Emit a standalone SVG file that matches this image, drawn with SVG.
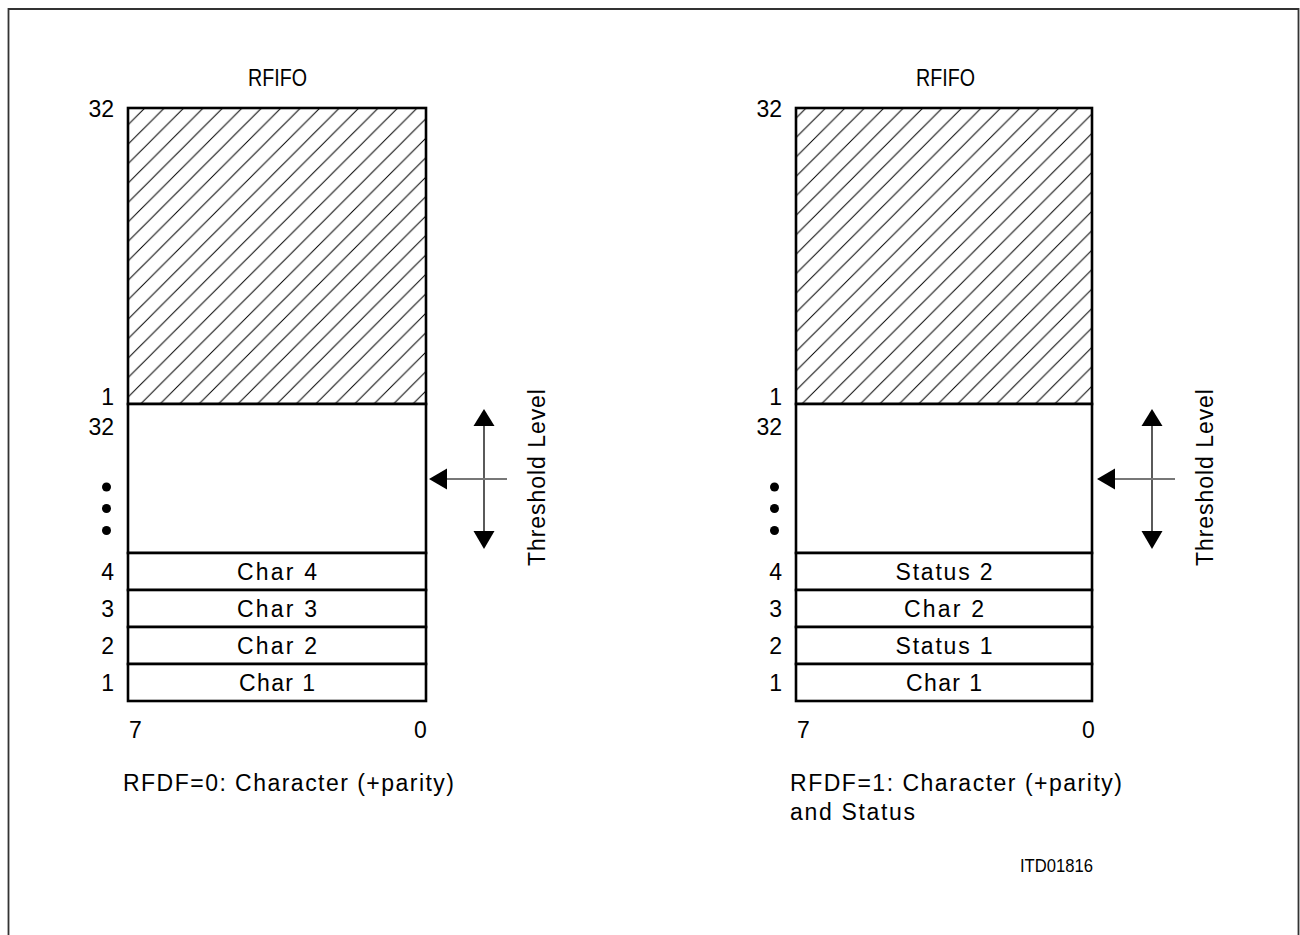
<svg xmlns="http://www.w3.org/2000/svg" width="1300" height="935" viewBox="0 0 1300 935">
<style>
text{font-family:"Liberation Sans",Arial,sans-serif;font-size:23px;fill:#000}
.c{text-anchor:middle}
.r{text-anchor:end}
.t{font-size:24px}
.box{fill:none;stroke:#000;stroke-width:2.6}
.hatch{fill:url(#hatch);stroke:none}
.cell{fill:#fff;stroke:#000;stroke-width:2.6}
.hl{stroke:#000;stroke-width:1.3}
.gl{stroke:#777;stroke-width:2}
</style>
<defs>
<pattern id="hatch" patternUnits="userSpaceOnUse" width="19.45" height="19.45">
<path d="M0,19.45 L19.45,0 M-2,2 L2,-2 M17.45,21.45 L21.45,17.45" stroke="#000" stroke-width="1" fill="none"/>
</pattern>
</defs>
<rect width="1300" height="935" fill="#fff"/>
<path d="M8.5,940 V9 H1298.5 V940" fill="none" stroke="#333" stroke-width="1.8"/>

<!-- Left diagram -->
<g id="left-fifo">
<text class="c t" transform="translate(277.5,86) scale(0.82,1)">RFIFO</text>
<g id="left-hatched">
<rect x="128" y="108" width="298" height="296" class="hatch"/>
<rect x="128" y="108" width="298" height="296" class="box"/>
</g>
<g id="left-empty"><rect x="128" y="404" width="298" height="149" class="cell"/></g>
<g id="left-row4"><rect x="128" y="553" width="298" height="37" class="cell"/><text class="c" x="277" y="580" textLength="80" lengthAdjust="spacing">Char 4</text></g>
<g id="left-row3"><rect x="128" y="590" width="298" height="37" class="cell"/><text class="c" x="277" y="617" textLength="80" lengthAdjust="spacing">Char 3</text></g>
<g id="left-row2"><rect x="128" y="627" width="298" height="37" class="cell"/><text class="c" x="277" y="654" textLength="80" lengthAdjust="spacing">Char 2</text></g>
<g id="left-row1"><rect x="128" y="664" width="298" height="37" class="cell"/><text class="c" x="277" y="691" textLength="76" lengthAdjust="spacing">Char 1</text></g>
<text class="r" x="114" y="117">32</text>
<text class="r" x="114" y="405">1</text>
<text class="r" x="114" y="435">32</text>
<circle cx="106.5" cy="487" r="4.5"/>
<circle cx="106.5" cy="508.5" r="4.5"/>
<circle cx="106.5" cy="530.5" r="4.5"/>
<text class="r" x="114" y="580">4</text>
<text class="r" x="114" y="617">3</text>
<text class="r" x="114" y="654">2</text>
<text class="r" x="114" y="691">1</text>
<text x="129" y="738">7</text>
<text x="414" y="738">0</text>
<text x="123" y="791" textLength="331" lengthAdjust="spacing">RFDF=0: Character (+parity)</text>
<text transform="translate(545,566) rotate(-90)" textLength="177" lengthAdjust="spacing">Threshold Level</text>
</g>

<!-- Right diagram -->
<g id="right-fifo">
<text class="c t" transform="translate(945.5,86) scale(0.82,1)">RFIFO</text>
<g id="right-hatched">
<rect x="796" y="108" width="296" height="296" class="hatch"/>
<rect x="796" y="108" width="296" height="296" class="box"/>
</g>
<g id="right-empty"><rect x="796" y="404" width="296" height="149" class="cell"/></g>
<g id="right-row4"><rect x="796" y="553" width="296" height="37" class="cell"/><text class="c" x="944" y="580" textLength="97" lengthAdjust="spacing">Status 2</text></g>
<g id="right-row3"><rect x="796" y="590" width="296" height="37" class="cell"/><text class="c" x="944" y="617" textLength="80" lengthAdjust="spacing">Char 2</text></g>
<g id="right-row2"><rect x="796" y="627" width="296" height="37" class="cell"/><text class="c" x="944" y="654" textLength="97" lengthAdjust="spacing">Status 1</text></g>
<g id="right-row1"><rect x="796" y="664" width="296" height="37" class="cell"/><text class="c" x="944" y="691" textLength="76" lengthAdjust="spacing">Char 1</text></g>
<text class="r" x="782" y="117">32</text>
<text class="r" x="782" y="405">1</text>
<text class="r" x="782" y="435">32</text>
<circle cx="774.5" cy="487" r="4.5"/>
<circle cx="774.5" cy="508.5" r="4.5"/>
<circle cx="774.5" cy="530.5" r="4.5"/>
<text class="r" x="782" y="580">4</text>
<text class="r" x="782" y="617">3</text>
<text class="r" x="782" y="654">2</text>
<text class="r" x="782" y="691">1</text>
<text x="797" y="738">7</text>
<text x="1082" y="738">0</text>
<text x="790" y="791" textLength="332" lengthAdjust="spacing">RFDF=1: Character (+parity)</text>
<text x="790" y="820" textLength="125" lengthAdjust="spacing">and Status</text>
<text x="1020" y="872" style="font-size:19px" textLength="73" lengthAdjust="spacingAndGlyphs">ITD01816</text>
<text transform="translate(1213,566) rotate(-90)" textLength="177" lengthAdjust="spacing">Threshold Level</text>
</g>

<g id="connectors">
<line class="hl" x1="484" y1="420" x2="484" y2="536"/>
<path d="M484,409 L473.5,426 L494.5,426 Z"/>
<path d="M484,549 L473.5,531 L494.5,531 Z"/>
<line class="gl" x1="445" y1="479" x2="507" y2="479"/>
<path d="M429,479 L447,468.5 L447,489.5 Z"/>
<line class="hl" x1="1152" y1="420" x2="1152" y2="536"/>
<path d="M1152,409 L1141.5,426 L1162.5,426 Z"/>
<path d="M1152,549 L1141.5,531 L1162.5,531 Z"/>
<line class="gl" x1="1113" y1="479" x2="1175" y2="479"/>
<path d="M1097,479 L1115,468.5 L1115,489.5 Z"/>
</g>
</svg>
